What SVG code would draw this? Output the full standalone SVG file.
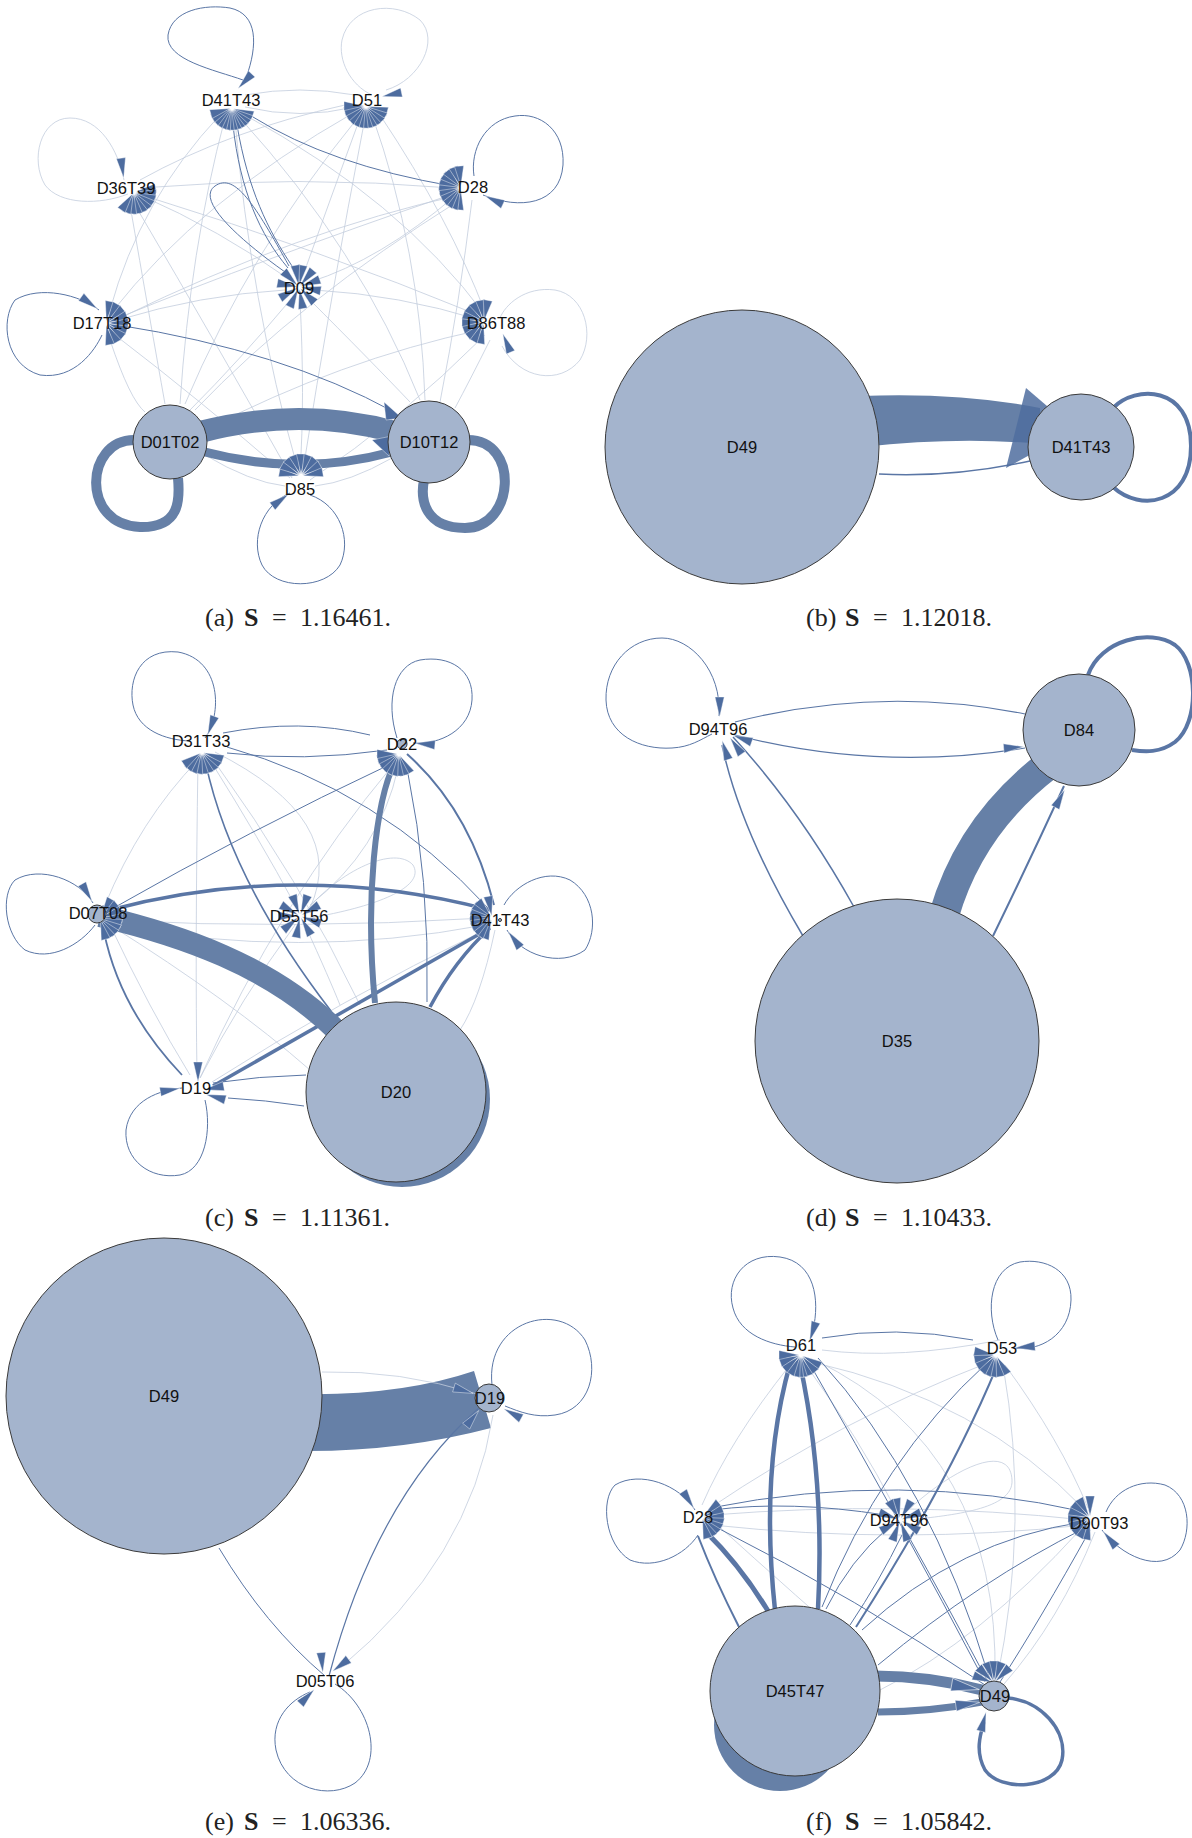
<svg xmlns="http://www.w3.org/2000/svg" xmlns:xlink="http://www.w3.org/1999/xlink" width="1192" height="1838" viewBox="0 0 1192 1838">
<style>
.n{fill:#a4b4cd;stroke:#3a3a3a;stroke-width:1}
.lb{font-family:"Liberation Sans",Arial,sans-serif;font-size:16.5px;fill:#111;text-anchor:middle}
.cap{font-family:"Liberation Serif","Times New Roman",serif;font-size:26px;fill:#222}
.e{fill:none;stroke:#5a76a5}
.f{fill:none;stroke:#c3cddd;stroke-width:.8}
.b{fill:none;stroke:#6680a7}
.ah{fill:#4d6c9f;stroke:#fff;stroke-width:.4}
</style>
<defs>
<path id="ah" d="M2,0 L22,-4.6 L22,4.6Z"/>
</defs>
<rect width="1192" height="1838" fill="#fff"/>

<!-- ================= PANEL A ================= -->
<g id="panel-a">
<g id="a-connectors">
<g class="f">
<path d="M245 95 Q300 85 355 95"/><path d="M355 107 Q300 120 245 107"/>
<path d="M235 120 Q250 300 298 470"/><path d="M245 115 Q400 200 485 315"/>
<path d="M240 118 Q360 250 420 400"/><path d="M225 118 Q190 250 180 404"/>
<path d="M220 115 Q140 200 110 310"/><path d="M360 115 Q250 250 185 404"/>
<path d="M372 115 Q420 250 425 400"/><path d="M365 118 Q330 300 303 470"/>
<path d="M345 105 Q230 130 140 180"/><path d="M355 112 Q200 200 112 312"/>
<path d="M360 118 Q330 200 305 270"/><path d="M140 195 Q220 230 290 280"/>
<path d="M460 200 Q300 300 195 410"/><path d="M460 195 Q300 230 120 318"/>
<path d="M472 200 Q460 300 440 402"/><path d="M300 300 Q305 400 300 470"/>
<path d="M285 290 Q200 295 118 320"/><path d="M315 290 Q400 295 480 320"/>
<path d="M115 335 Q200 400 290 478"/><path d="M480 330 Q340 360 205 430"/>
<path d="M485 335 Q400 420 310 480"/><path d="M392 458 Q350 482 315 486"/>
<path d="M205 455 Q250 482 285 486"/><path d="M135 205 Q220 350 292 478"/>
<path d="M130 205 Q150 320 165 404"/><path d="M110 340 Q130 400 145 412"/>
<path d="M490 340 Q470 380 455 408"/><path d="M140 188 Q300 175 452 188"/>
<path d="M145 196 Q320 250 478 315"/><path d="M455 196 Q380 260 310 282"/>
<path d="M380 115 Q450 220 485 312"/><path d="M118 318 Q260 260 450 195"/>
<path d="M292 298 Q240 360 190 410"/><path d="M308 298 Q370 360 410 402"/>
<path d="M386 90 C420 80,440 40,420 20 C395 0,350 5,342 40 C338 60,350 85,372 95"/>
<path d="M124 180 C118 150,100 118,70 118 C40 118,30 160,45 185 C60 205,100 205,128 194"/>
<path d="M502 346 C520 380,560 385,580 360 C595 335,585 295,555 290 C525 286,505 305,500 318"/>
</g>
<g class="e" stroke-width="1">
<path d="M243 80 C215 70,165 60,168 35 C172 10,205 4,230 8 C258 14,258 45,246 78"/>
<path d="M483 195 C520 210,560 205,563 165 C565 130,540 112,515 116 C485 120,470 150,474 176"/>
<path d="M99 310 C80 295,40 285,15 300 C0 320,5 365,40 375 C75 380,95 350,102 335"/>
<path d="M290 493 C262 505,250 540,262 565 C275 590,325 590,340 565 C352 540,340 505,310 495"/>
<path d="M285 272 C240 240,195 200,215 186 C235 172,255 205,289 266"/>
<path d="M233 125 C240 190,260 235,288 268"/><path d="M237 125 C248 190,268 230,292 266"/>
<path d="M253 117 Q330 165 452 186"/>
<path d="M118 325 Q283 351 394 412"/>
</g>
<path class="b" stroke-width="10" d="M134 440 C85 440,80 525,140 527 C180 528,180 500,178 478"/>
<path class="b" stroke-width="10" d="M468 440 C520 440,515 528,465 528 C425 528,420 500,424 480"/>
<path class="b" stroke-width="22" d="M200 432 Q300 406 395 432"/>
<path class="b" stroke-width="9" d="M205 452 Q300 477 392 452"/>
<g class="ah">
<path d="M372 440 L392 436 L389 456Z"/>
<path d="M384 402 L402 418 L386 420Z"/>
<use href="#ah" transform="translate(236.7 90) rotate(-47)"/>
<use href="#ah" transform="translate(380 97) rotate(-12)"/>
<use href="#ah" transform="translate(124 180) rotate(-98)"/>
<use href="#ah" transform="translate(483 195) rotate(25)"/>
<use href="#ah" transform="translate(99 310) rotate(216)"/>
<use href="#ah" transform="translate(502 332) rotate(67)"/>
<use href="#ah" transform="translate(290 493) rotate(143)"/>
</g>
</g>
<g id="a-fans" class="ah">
<use href="#ah" transform="translate(232 108) rotate(20)"/><use href="#ah" transform="translate(232 108) rotate(32)"/><use href="#ah" transform="translate(232 108) rotate(44)"/><use href="#ah" transform="translate(232 108) rotate(56)"/><use href="#ah" transform="translate(232 108) rotate(66)"/><use href="#ah" transform="translate(232 108) rotate(76)"/><use href="#ah" transform="translate(232 108) rotate(86)"/><use href="#ah" transform="translate(232 108) rotate(96)"/><use href="#ah" transform="translate(232 108) rotate(106)"/><use href="#ah" transform="translate(232 108) rotate(116)"/><use href="#ah" transform="translate(232 108) rotate(128)"/><use href="#ah" transform="translate(232 108) rotate(140)"/><use href="#ah" transform="translate(232 108) rotate(152)"/><use href="#ah" transform="translate(232 108) rotate(164)"/>
<use href="#ah" transform="translate(366 106) rotate(15)"/><use href="#ah" transform="translate(366 106) rotate(30)"/><use href="#ah" transform="translate(366 106) rotate(45)"/><use href="#ah" transform="translate(366 106) rotate(60)"/><use href="#ah" transform="translate(366 106) rotate(72)"/><use href="#ah" transform="translate(366 106) rotate(84)"/><use href="#ah" transform="translate(366 106) rotate(96)"/><use href="#ah" transform="translate(366 106) rotate(108)"/><use href="#ah" transform="translate(366 106) rotate(120)"/><use href="#ah" transform="translate(366 106) rotate(135)"/><use href="#ah" transform="translate(366 106) rotate(150)"/><use href="#ah" transform="translate(366 106) rotate(165)"/><use href="#ah" transform="translate(366 106) rotate(180)"/>
<use href="#ah" transform="translate(134 192) rotate(-10)"/><use href="#ah" transform="translate(134 192) rotate(5)"/><use href="#ah" transform="translate(134 192) rotate(20)"/><use href="#ah" transform="translate(134 192) rotate(35)"/><use href="#ah" transform="translate(134 192) rotate(50)"/><use href="#ah" transform="translate(134 192) rotate(65)"/><use href="#ah" transform="translate(134 192) rotate(80)"/><use href="#ah" transform="translate(134 192) rotate(95)"/><use href="#ah" transform="translate(134 192) rotate(110)"/><use href="#ah" transform="translate(134 192) rotate(125)"/>
<use href="#ah" transform="translate(461 188) rotate(95)"/><use href="#ah" transform="translate(461 188) rotate(110)"/><use href="#ah" transform="translate(461 188) rotate(125)"/><use href="#ah" transform="translate(461 188) rotate(140)"/><use href="#ah" transform="translate(461 188) rotate(155)"/><use href="#ah" transform="translate(461 188) rotate(170)"/><use href="#ah" transform="translate(461 188) rotate(185)"/><use href="#ah" transform="translate(461 188) rotate(200)"/><use href="#ah" transform="translate(461 188) rotate(215)"/><use href="#ah" transform="translate(461 188) rotate(230)"/><use href="#ah" transform="translate(461 188) rotate(250)"/><use href="#ah" transform="translate(461 188) rotate(265)"/>
<use href="#ah" transform="translate(299 287) rotate(-80)"/><use href="#ah" transform="translate(299 287) rotate(-50)"/><use href="#ah" transform="translate(299 287) rotate(-20)"/><use href="#ah" transform="translate(299 287) rotate(10)"/><use href="#ah" transform="translate(299 287) rotate(45)"/><use href="#ah" transform="translate(299 287) rotate(80)"/><use href="#ah" transform="translate(299 287) rotate(115)"/><use href="#ah" transform="translate(299 287) rotate(150)"/><use href="#ah" transform="translate(299 287) rotate(190)"/><use href="#ah" transform="translate(299 287) rotate(225)"/><use href="#ah" transform="translate(299 287) rotate(260)"/>
<use href="#ah" transform="translate(106 323) rotate(-80)"/><use href="#ah" transform="translate(106 323) rotate(-60)"/><use href="#ah" transform="translate(106 323) rotate(-40)"/><use href="#ah" transform="translate(106 323) rotate(-20)"/><use href="#ah" transform="translate(106 323) rotate(0)"/><use href="#ah" transform="translate(106 323) rotate(20)"/><use href="#ah" transform="translate(106 323) rotate(40)"/><use href="#ah" transform="translate(106 323) rotate(60)"/><use href="#ah" transform="translate(106 323) rotate(80)"/>
<use href="#ah" transform="translate(484 322) rotate(100)"/><use href="#ah" transform="translate(484 322) rotate(120)"/><use href="#ah" transform="translate(484 322) rotate(140)"/><use href="#ah" transform="translate(484 322) rotate(160)"/><use href="#ah" transform="translate(484 322) rotate(180)"/><use href="#ah" transform="translate(484 322) rotate(200)"/><use href="#ah" transform="translate(484 322) rotate(220)"/><use href="#ah" transform="translate(484 322) rotate(240)"/><use href="#ah" transform="translate(484 322) rotate(260)"/><use href="#ah" transform="translate(484 322) rotate(-80)"/>
<use href="#ah" transform="translate(301 476) rotate(-170)"/><use href="#ah" transform="translate(301 476) rotate(-150)"/><use href="#ah" transform="translate(301 476) rotate(-130)"/><use href="#ah" transform="translate(301 476) rotate(-110)"/><use href="#ah" transform="translate(301 476) rotate(-90)"/><use href="#ah" transform="translate(301 476) rotate(-70)"/><use href="#ah" transform="translate(301 476) rotate(-50)"/><use href="#ah" transform="translate(301 476) rotate(-30)"/><use href="#ah" transform="translate(301 476) rotate(-10)"/>
</g>
<g id="a-D41T43"><text class="lb" x="231" y="106">D41T43</text></g>
<g id="a-D51"><text class="lb" x="367" y="106">D51</text></g>
<g id="a-D36T39"><text class="lb" x="126" y="194">D36T39</text></g>
<g id="a-D28"><text class="lb" x="473" y="193">D28</text></g>
<g id="a-D09"><text class="lb" x="299" y="294">D09</text></g>
<g id="a-D17T18"><text class="lb" x="102" y="329">D17T18</text></g>
<g id="a-D86T88"><text class="lb" x="496" y="329">D86T88</text></g>
<g id="a-D85"><text class="lb" x="300" y="495">D85</text></g>
<g id="a-D01T02"><circle class="n" cx="170" cy="442" r="37"/><text class="lb" x="170" y="448">D01T02</text></g>
<g id="a-D10T12"><circle class="n" cx="429" cy="442" r="41"/><text class="lb" x="429" y="448">D10T12</text></g>
<text class="cap" y="626"><tspan x="205">(a)</tspan><tspan x="244" font-weight="bold">S</tspan><tspan x="272">=</tspan><tspan x="300">1.16461.</tspan></text>
</g>

<!-- ================= PANEL B ================= -->
<g id="panel-b">
<g id="b-connectors">
<path class="e" stroke-width="4" d="M1113 408 C1135 385,1191 385,1191 446 C1191 505,1140 512,1113 487"/>
<path d="M860 396 Q960 392 1040 408 L1040 444 Q960 436 862 447 Z" fill="#6680a7"/>
<path class="e" stroke-width="1.5" d="M879 474 Q950 478 1030 461"/>
<path d="M1026 388 L1075 430 L1006 468Z" fill="#4f6d9f" fill-opacity=".85"/>
</g>
<g id="b-D49"><circle class="n" cx="742" cy="447" r="137"/><text class="lb" x="742" y="453">D49</text></g>
<g id="b-D41T43"><circle class="n" cx="1081" cy="447" r="53"/><text class="lb" x="1081" y="453">D41T43</text></g>
<text class="cap" y="626"><tspan x="806">(b)</tspan><tspan x="845" font-weight="bold">S</tspan><tspan x="873">=</tspan><tspan x="901">1.12018.</tspan></text>
</g>

<!-- ================= PANEL C ================= -->
<g id="panel-c">
<g id="c-connectors">
<g class="f">
<path d="M105 905 Q140 820 198 760"/><path d="M198 760 Q195 950 197 1075"/>
<path d="M110 925 Q150 1010 190 1075"/><path d="M295 925 Q240 1000 200 1078"/>
<path d="M210 760 Q260 840 295 905"/><path d="M212 758 Q300 880 360 1005"/>
<path d="M110 925 Q300 960 485 925"/><path d="M110 925 Q230 1000 310 1070"/>
<path d="M305 925 Q330 980 340 1005"/><path d="M495 930 Q480 1000 460 1030"/>
<path d="M393 765 Q280 900 200 1078"/><path d="M485 930 Q340 1000 212 1082"/>
<path d="M305 912 C340 870,395 845,413 865 C425 885,385 905,310 918"/>
<path d="M215 752 Q350 820 310 908"/><path d="M310 905 Q380 850 398 768"/>
<path d="M110 920 Q290 930 485 918"/>
</g>
<g class="e" stroke-width="1">
<path d="M205 738 C222 715,222 660,178 652 C140 648,128 680,133 705 C138 730,165 740,190 741"/>
<path d="M413 743 C440 745,470 730,472 700 C474 670,450 655,420 660 C395 665,385 700,397 738"/>
<path d="M93 903 C80 880,40 865,15 880 C0 895,5 935,25 950 C50 962,80 945,95 925"/>
<path d="M507 930 C520 955,560 968,585 950 C598 930,595 895,570 880 C545 868,515 885,504 905"/>
<path d="M182 1088 C160 1090,130 1100,126 1130 C124 1160,150 1180,180 1175 C205 1170,212 1130,205 1100"/>
<path d="M223 733 Q300 718 370 735"/><path d="M227 753 Q302 762 387 750"/>
<path d="M227 747 Q380 790 488 908"/>
<path d="M393 763 Q250 830 110 910"/>
<path d="M407 768 Q430 880 427 1002"/>
<path d="M306 1075 Q260 1076 213 1083"/><path d="M304 1106 Q265 1100 228 1098"/>
</g>
<path class="e" stroke-width="1.6" d="M331 1011 Q230 880 205 760"/>
<path class="e" stroke-width="1.8" d="M182 1075 Q120 1010 104 932"/>
<path class="e" stroke-width="2" d="M407 754 Q470 810 494 905"/>
<path class="e" stroke-width="3.5" d="M110 910 Q300 860 490 910"/>
<path class="e" stroke-width="3.5" d="M213 1086 L490 928"/>
<path class="e" stroke-width="3.5" d="M430 1007 Q455 960 490 928"/>
<path class="b" stroke-width="6" d="M375 1003 C365 900,375 800,396 760"/>
<path class="b" stroke-width="22" d="M100 916 C180 935,270 965,336 1030"/>
<circle cx="402" cy="1099" r="88" fill="#6680a7"/>
<g class="ah">
<use href="#ah" transform="translate(207 737) rotate(-70)"/>
<use href="#ah" transform="translate(413 743) rotate(5)"/>
<use href="#ah" transform="translate(93 903) rotate(-120)"/>
<use href="#ah" transform="translate(507 930) rotate(53)"/>
<use href="#ah" transform="translate(182 1088) rotate(170)"/>
</g>
</g>
<g id="c-fans" class="ah">
<use href="#ah" transform="translate(202 752) rotate(20)"/><use href="#ah" transform="translate(202 752) rotate(40)"/><use href="#ah" transform="translate(202 752) rotate(55)"/><use href="#ah" transform="translate(202 752) rotate(70)"/><use href="#ah" transform="translate(202 752) rotate(85)"/><use href="#ah" transform="translate(202 752) rotate(100)"/><use href="#ah" transform="translate(202 752) rotate(115)"/><use href="#ah" transform="translate(202 752) rotate(130)"/><use href="#ah" transform="translate(202 752) rotate(145)"/>
<use href="#ah" transform="translate(399 754) rotate(60)"/><use href="#ah" transform="translate(399 754) rotate(75)"/><use href="#ah" transform="translate(399 754) rotate(90)"/><use href="#ah" transform="translate(399 754) rotate(105)"/><use href="#ah" transform="translate(399 754) rotate(120)"/><use href="#ah" transform="translate(399 754) rotate(135)"/><use href="#ah" transform="translate(399 754) rotate(150)"/><use href="#ah" transform="translate(399 754) rotate(165)"/><use href="#ah" transform="translate(399 754) rotate(180)"/>
<use href="#ah" transform="translate(100 918) rotate(-60)"/><use href="#ah" transform="translate(100 918) rotate(-40)"/><use href="#ah" transform="translate(100 918) rotate(-20)"/><use href="#ah" transform="translate(100 918) rotate(0)"/><use href="#ah" transform="translate(100 918) rotate(15)"/><use href="#ah" transform="translate(100 918) rotate(30)"/><use href="#ah" transform="translate(100 918) rotate(45)"/><use href="#ah" transform="translate(100 918) rotate(60)"/><use href="#ah" transform="translate(100 918) rotate(75)"/>
<use href="#ah" transform="translate(300 916) rotate(-110)"/><use href="#ah" transform="translate(300 916) rotate(-70)"/><use href="#ah" transform="translate(300 916) rotate(-30)"/><use href="#ah" transform="translate(300 916) rotate(20)"/><use href="#ah" transform="translate(300 916) rotate(60)"/><use href="#ah" transform="translate(300 916) rotate(100)"/><use href="#ah" transform="translate(300 916) rotate(140)"/><use href="#ah" transform="translate(300 916) rotate(180)"/><use href="#ah" transform="translate(300 916) rotate(-150)"/>
<use href="#ah" transform="translate(492 918) rotate(110)"/><use href="#ah" transform="translate(492 918) rotate(125)"/><use href="#ah" transform="translate(492 918) rotate(140)"/><use href="#ah" transform="translate(492 918) rotate(155)"/><use href="#ah" transform="translate(492 918) rotate(170)"/><use href="#ah" transform="translate(492 918) rotate(185)"/><use href="#ah" transform="translate(492 918) rotate(200)"/><use href="#ah" transform="translate(492 918) rotate(215)"/><use href="#ah" transform="translate(492 918) rotate(230)"/><use href="#ah" transform="translate(492 918) rotate(-100)"/>
<use href="#ah" transform="translate(198 1084) rotate(-90)"/><use href="#ah" transform="translate(202 1090) rotate(-10)"/><use href="#ah" transform="translate(204 1094) rotate(15)"/>
</g>
<g id="c-D31T33"><text class="lb" x="201" y="747">D31T33</text></g>
<g id="c-D22"><circle class="n" cx="402" cy="744" r="5"/><text class="lb" x="402" y="750">D22</text></g>
<g id="c-D07T08"><circle class="n" cx="97" cy="914" r="9"/><text class="lb" x="98" y="919">D07T08</text></g>
<g id="c-D55T56"><text class="lb" x="299" y="922">D55T56</text></g>
<g id="c-D41T43"><circle class="n" cx="500" cy="920" r="1.5"/><text class="lb" x="500" y="926">D41T43</text></g>
<g id="c-D19"><text class="lb" x="196" y="1094">D19</text></g>
<g id="c-D20"><circle class="n" cx="396" cy="1092" r="90"/><text class="lb" x="396" y="1098">D20</text></g>
<text class="cap" y="1226"><tspan x="205">(c)</tspan><tspan x="244" font-weight="bold">S</tspan><tspan x="272">=</tspan><tspan x="300">1.11361.</tspan></text>
</g>

<!-- ================= PANEL D ================= -->
<g id="panel-d">
<g id="d-connectors">
<path class="e" stroke-width="1" d="M719 716 C722 670,690 638,662 638 C630 638,605 665,606 700 C607 735,640 750,672 748 C690 747,700 740,712 734"/>
<path class="e" stroke-width="1.2" d="M1025 714 Q880 685 735 722"/>
<path class="e" stroke-width="1.2" d="M735 735 Q880 772 1025 748"/>
<path class="e" stroke-width="1.5" d="M803 936 Q740 830 722 745"/>
<path class="e" stroke-width="1.5" d="M854 907 Q800 810 733 737"/>
<path class="b" stroke-width="30" d="M944 915 Q970 825 1048 765"/>
<path class="e" stroke-width="2" d="M993 936 Q1030 860 1064 786"/>
<path class="e" stroke-width="4" d="M1088 675 C1100 640,1150 628,1175 645 C1198 662,1200 722,1175 742 C1160 753,1145 752,1132 750"/>
<g class="ah">
<use href="#ah" transform="translate(719.6 719) rotate(-90)"/>
<use href="#ah" transform="translate(721.5 738.6) rotate(72)"/>
<use href="#ah" transform="translate(729 736) rotate(55)"/>
<use href="#ah" transform="translate(731 734.6) rotate(20)"/>
<use href="#ah" transform="translate(1025.6 746.5) rotate(175)"/>
<use href="#ah" transform="translate(1065.6 788) rotate(118)"/>
</g>
</g>
<g id="d-D94T96"><text class="lb" x="718" y="735">D94T96</text></g>
<g id="d-D84"><circle class="n" cx="1079" cy="730" r="56"/><text class="lb" x="1079" y="736">D84</text></g>
<g id="d-D35"><circle class="n" cx="897" cy="1041" r="142"/><text class="lb" x="897" y="1047">D35</text></g>
<text class="cap" y="1226"><tspan x="806">(d)</tspan><tspan x="845" font-weight="bold">S</tspan><tspan x="873">=</tspan><tspan x="901">1.10433.</tspan></text>
</g>

<!-- ================= PANEL E ================= -->
<g id="panel-e">
<g id="e-connectors">
<path d="M300 1394 Q400 1396 474 1371 L491 1428 Q400 1452 300 1451 Z" fill="#6680a7"/>
<path class="f" d="M322 1372 Q400 1370 477 1394"/>
<path class="f" d="M493 1415 Q470 1560 340 1668"/>
<path class="e" stroke-width="1" d="M219 1548 Q265 1625 325 1676"/>
<path class="e" stroke-width="1.2" d="M329 1676 Q376 1498 479 1408"/>
<path class="e" stroke-width="1" d="M492 1385 C485 1320,560 1300,585 1340 C600 1370,590 1410,555 1415 C535 1418,520 1412,505 1406"/>
<path class="e" stroke-width="1" d="M335 1684 C370 1705,385 1760,355 1783 C330 1800,285 1790,276 1750 C270 1720,290 1700,310 1692"/>
<g class="ah">
<use href="#ah" transform="translate(502 1407.7) rotate(29)"/>
<use href="#ah" transform="translate(315.6 1688) rotate(134)"/>
<use href="#ah" transform="translate(323 1674.5) rotate(-95)"/>
<use href="#ah" transform="translate(331 1672.5) rotate(-37)"/>
<use href="#ah" transform="translate(480 1409) rotate(129)"/>
<use href="#ah" transform="translate(475 1394) rotate(197)"/>
</g>
</g>
<g id="e-D49"><circle class="n" cx="164" cy="1396" r="158"/><text class="lb" x="164" y="1402">D49</text></g>
<g id="e-D19"><circle class="n" cx="489" cy="1398" r="14"/><text class="lb" x="490" y="1404">D19</text></g>
<g id="e-D05T06"><text class="lb" x="325" y="1687">D05T06</text></g>
<text class="cap" y="1830"><tspan x="205">(e)</tspan><tspan x="244" font-weight="bold">S</tspan><tspan x="272">=</tspan><tspan x="300">1.06336.</tspan></text>
</g>

<!-- ================= PANEL F ================= -->
<g id="panel-f">
<g id="f-connectors">
<g class="f">
<path d="M790 1365 Q730 1440 702 1505"/><path d="M1005 1365 Q1060 1440 1088 1508"/>
<path d="M812 1362 Q980 1400 1085 1510"/><path d="M990 1362 Q840 1420 710 1508"/>
<path d="M806 1365 Q860 1440 895 1508"/><path d="M1003 1365 Q1030 1520 997 1680"/>
<path d="M815 1360 Q1000 1450 995 1680"/><path d="M712 1515 Q900 1500 1085 1520"/>
<path d="M712 1525 Q900 1545 1085 1525"/><path d="M1000 1340 Q900 1360 822 1350"/>
<path d="M905 1513 C950 1470,1010 1440,1012 1480 C1014 1510,950 1515,910 1520"/>
<path d="M1095 1532 Q1060 1620 1004 1684"/><path d="M1080 1530 Q980 1640 880 1690"/>
<path d="M712 1520 Q800 1600 870 1660"/>
</g>
<g class="e" stroke-width="1">
<path d="M813 1330 C820 1300,815 1262,780 1257 C745 1252,725 1280,733 1308 C740 1335,770 1345,795 1347"/>
<path d="M1013 1348 C1040 1352,1070 1335,1071 1300 C1072 1270,1045 1258,1020 1262 C990 1268,985 1310,998 1340"/>
<path d="M695 1510 C680 1485,640 1470,615 1485 C600 1500,605 1545,630 1560 C655 1570,685 1555,698 1535"/>
<path d="M1102 1530 C1120 1555,1160 1575,1180 1550 C1192 1530,1190 1495,1165 1485 C1140 1478,1115 1490,1106 1512"/>
<path d="M822 1338 Q895 1325 973 1340"/>
<path d="M710 1508 Q900 1470 1085 1512"/>
<path d="M712 1510 Q790 1500 885 1515"/>
<path d="M712 1525 Q860 1600 985 1685"/>
<path d="M905 1530 Q950 1610 988 1682"/>
<path d="M1090 1530 Q1040 1620 1000 1682"/>
<path d="M811 1366 Q900 1520 985 1682"/><path d="M818 1358 Q930 1480 990 1680"/>
<path d="M822 1607 Q880 1460 988 1362"/>
<path d="M826 1609 Q850 1560 888 1528"/><path d="M850 1625 Q880 1580 902 1535"/>
<path d="M862 1630 Q960 1540 1083 1522"/><path d="M878 1665 Q980 1580 1085 1528"/>
</g>
<path class="e" stroke-width="2" d="M856 1627 Q950 1480 997 1366"/>
<path class="e" stroke-width="2" d="M739 1627 Q715 1580 698 1536"/>
<path class="e" stroke-width="4.5" d="M775 1610 Q760 1470 790 1364"/>
<path class="e" stroke-width="4.5" d="M818 1609 Q825 1480 800 1364"/>
<path class="e" stroke-width="5" d="M768 1611 Q740 1565 706 1532"/>
<path class="b" stroke-width="11" d="M875 1676 Q930 1676 982 1690"/>
<path class="b" stroke-width="7" d="M878 1712 Q930 1712 982 1702"/>
<path class="e" stroke-width="3.5" d="M1007 1698 C1040 1700,1068 1730,1062 1760 C1055 1790,1000 1792,985 1770 C975 1752,980 1735,984 1722"/>
<circle cx="780" cy="1725" r="66" fill="#6680a7"/>
<g class="ah">
<use href="#ah" transform="translate(809 1343) rotate(-72)"/>
<use href="#ah" transform="translate(1013 1348) rotate(-5)"/>
<use href="#ah" transform="translate(695 1510) rotate(-123)"/>
<use href="#ah" transform="translate(1102 1530) rotate(50)"/>
<use href="#ah" transform="translate(986.6 1710) rotate(105)"/>
<use href="#ah" transform="translate(982 1690) rotate(190) scale(1.4)"/>
<use href="#ah" transform="translate(982 1702) rotate(172) scale(1.2)"/>
</g>
</g>
<g id="f-fans" class="ah">
<use href="#ah" transform="translate(801 1355) rotate(30)"/><use href="#ah" transform="translate(801 1355) rotate(50)"/><use href="#ah" transform="translate(801 1355) rotate(70)"/><use href="#ah" transform="translate(801 1355) rotate(85)"/><use href="#ah" transform="translate(801 1355) rotate(95)"/><use href="#ah" transform="translate(801 1355) rotate(105)"/><use href="#ah" transform="translate(801 1355) rotate(120)"/><use href="#ah" transform="translate(801 1355) rotate(140)"/><use href="#ah" transform="translate(801 1355) rotate(160)"/><use href="#ah" transform="translate(801 1355) rotate(180)"/>
<use href="#ah" transform="translate(996 1355) rotate(60)"/><use href="#ah" transform="translate(996 1355) rotate(80)"/><use href="#ah" transform="translate(996 1355) rotate(100)"/><use href="#ah" transform="translate(996 1355) rotate(115)"/><use href="#ah" transform="translate(996 1355) rotate(130)"/><use href="#ah" transform="translate(996 1355) rotate(150)"/><use href="#ah" transform="translate(996 1355) rotate(170)"/><use href="#ah" transform="translate(996 1355) rotate(190)"/>
<use href="#ah" transform="translate(702 1517) rotate(-40)"/><use href="#ah" transform="translate(702 1517) rotate(-20)"/><use href="#ah" transform="translate(702 1517) rotate(0)"/><use href="#ah" transform="translate(702 1517) rotate(15)"/><use href="#ah" transform="translate(702 1517) rotate(30)"/><use href="#ah" transform="translate(702 1517) rotate(45)"/><use href="#ah" transform="translate(702 1517) rotate(60)"/><use href="#ah" transform="translate(702 1517) rotate(75)"/>
<use href="#ah" transform="translate(900 1520) rotate(-100)"/><use href="#ah" transform="translate(900 1520) rotate(-60)"/><use href="#ah" transform="translate(900 1520) rotate(-20)"/><use href="#ah" transform="translate(900 1520) rotate(30)"/><use href="#ah" transform="translate(900 1520) rotate(70)"/><use href="#ah" transform="translate(900 1520) rotate(110)"/><use href="#ah" transform="translate(900 1520) rotate(150)"/><use href="#ah" transform="translate(900 1520) rotate(200)"/><use href="#ah" transform="translate(900 1520) rotate(240)"/>
<use href="#ah" transform="translate(1090 1518) rotate(100)"/><use href="#ah" transform="translate(1090 1518) rotate(120)"/><use href="#ah" transform="translate(1090 1518) rotate(140)"/><use href="#ah" transform="translate(1090 1518) rotate(160)"/><use href="#ah" transform="translate(1090 1518) rotate(180)"/><use href="#ah" transform="translate(1090 1518) rotate(200)"/><use href="#ah" transform="translate(1090 1518) rotate(220)"/><use href="#ah" transform="translate(1090 1518) rotate(240)"/><use href="#ah" transform="translate(1090 1518) rotate(-90)"/>
<use href="#ah" transform="translate(994 1683) rotate(-160)"/><use href="#ah" transform="translate(994 1683) rotate(-135)"/><use href="#ah" transform="translate(994 1683) rotate(-110)"/><use href="#ah" transform="translate(994 1683) rotate(-90)"/><use href="#ah" transform="translate(994 1683) rotate(-70)"/><use href="#ah" transform="translate(994 1683) rotate(-45)"/>
</g>
<g id="f-D61"><text class="lb" x="801" y="1351">D61</text></g>
<g id="f-D53"><text class="lb" x="1002" y="1354">D53</text></g>
<g id="f-D28"><text class="lb" x="698" y="1523">D28</text></g>
<g id="f-D94T96"><text class="lb" x="899" y="1526">D94T96</text></g>
<g id="f-D90T93"><text class="lb" x="1099" y="1529">D90T93</text></g>
<g id="f-D45T47"><circle class="n" cx="795" cy="1691" r="85"/><text class="lb" x="795" y="1697">D45T47</text></g>
<g id="f-D49"><circle class="n" cx="994" cy="1696" r="15"/><text class="lb" x="995" y="1702">D49</text></g>
<text class="cap" y="1830"><tspan x="806">(f)</tspan><tspan x="845" font-weight="bold">S</tspan><tspan x="873">=</tspan><tspan x="901">1.05842.</tspan></text>
</g>
</svg>
